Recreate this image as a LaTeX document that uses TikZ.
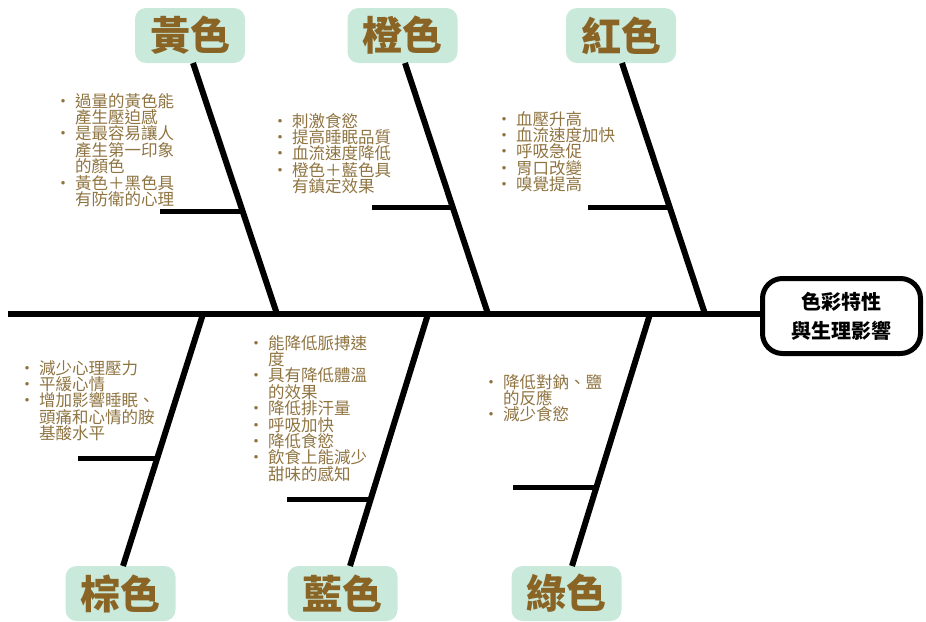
\documentclass[tikz,border=0pt]{standalone}
\usepackage{fontspec}
\newfontfamily\cjk{Noto Sans CJK TC}
\usetikzlibrary{calc}
\definecolor{mintc}{HTML}{C9E9DB}
\definecolor{labelc}{HTML}{8A6424}
\definecolor{descc}{HTML}{8F7441}
\newcommand{\bul}{\llap{\makebox[0pt][c]{•}\hspace{12pt}}}
\begin{document}
\begin{tikzpicture}[x=1pt,y=-1pt,
  catlabel/.style={fill=mintc, rounded corners=11pt, minimum width=110pt, minimum height=55pt, inner sep=0pt,
    font=\cjk\bfseries\fontsize{40}{40}\selectfont, text=labelc},
  bone/.style={line width=6pt, black},
  rib/.style={line width=5pt, black},
  desc/.style={font=\cjk\fontsize{16.5}{16.4}\selectfont, text=descc, align=left, inner sep=0pt, anchor=base west},
  headbox/.style={draw, line width=5pt, rounded corners=20pt, minimum width=158pt, minimum height=75pt, inner sep=0pt,
    font=\cjk\bfseries\fontsize{20}{29}\selectfont, align=center}]
\useasboundingbox (0,0) rectangle (926,621);

% head
\node[headbox] (head) at (841.5,316) {色彩特性\\與生理影響};
\coordinate (spineL) at (8,314);
\draw[line width=6pt] (spineL) -- (spineL -| head.west);

% labels
\node[catlabel] (huang) at (190,35.5) {黃色};
\node[catlabel] (cheng) at (402.5,35.5) {橙色};
\node[catlabel] (hong) at (621,35.5) {紅色};
\node[catlabel] (zong) at (120.5,593.5) {棕色};
\node[catlabel] (lan) at (342.5,593.5) {藍色};
\node[catlabel] (lv) at (566.5,593.5) {綠色};

% spine junctions
\coordinate (jh) at (277,314);
\coordinate (jc) at (488,314);
\coordinate (jr) at (705,314);
\coordinate (jz) at (203,314);
\coordinate (jl) at (428,314);
\coordinate (jv) at (650,314);

% bones
\coordinate (th) at (193,63);
\coordinate (tc) at (405,63);
\coordinate (tr) at (622,63);
\coordinate (bz) at (123,566);
\coordinate (bl) at (350,566);
\coordinate (bv) at (572,566);
\draw[bone] (th) -- (jh);
\draw[bone] (tc) -- (jc);
\draw[bone] (tr) -- (jr);
\draw[bone] (jz) -- (bz);
\draw[bone] (jl) -- (bl);
\draw[bone] (jv) -- (bv);

% ribs
\coordinate (rh) at ($(th)!0.592!(jh)$);
\coordinate (rc) at ($(tc)!0.576!(jc)$);
\coordinate (rr) at ($(tr)!0.576!(jr)$);
\coordinate (rz) at ($(jz)!0.573!(bz)$);
\coordinate (rl) at ($(jl)!0.738!(bl)$);
\coordinate (rv) at ($(jv)!0.688!(bv)$);
\draw[rib] (rh) -- (rh -| 160,0);
\draw[rib] (rc) -- (rc -| 372,0);
\draw[rib] (rr) -- (rr -| 588,0);
\draw[rib] (rz) -- (rz -| 78,0);
\draw[rib] (rl) -- (rl -| 287,0);
\draw[rib] (rv) -- (rv -| 513,0);

% descriptions (anchored at the baseline of the last line)
\node[desc] (dh) at (75,205.4) {\bul 過量的黃色能\\產生壓迫感\\\bul 是最容易讓人\\產生第一印象\\的顏色\\\bul 黃色＋黑色具\\有防衛的心理};
\node[desc] (dc) at (292,192.6) {\bul 刺激食慾\\\bul 提高睡眠品質\\\bul 血流速度降低\\\bul 橙色＋藍色具\\有鎮定效果};
\node[desc] (dr) at (516,190.6) {\bul 血壓升高\\\bul 血流速度加快\\\bul 呼吸急促\\\bul 胃口改變\\\bul 嗅覺提高};
\node[desc] (dz) at (39,439.6) {\bul 減少心理壓力\\\bul 平緩心情\\\bul 增加影響睡眠、\\頭痛和心情的胺\\基酸水平};
\node[desc] (dl) at (268,480.2) {\bul 能降低脈搏速\\度\\\bul 具有降低體溫\\的效果\\\bul 降低排汗量\\\bul 呼吸加快\\\bul 降低食慾\\\bul 飲食上能減少\\甜味的感知};
\node[desc] (dv) at (503,420.8) {\bul 降低對鈉、鹽\\的反應\\\bul 減少食慾};
\end{tikzpicture}
\end{document}
